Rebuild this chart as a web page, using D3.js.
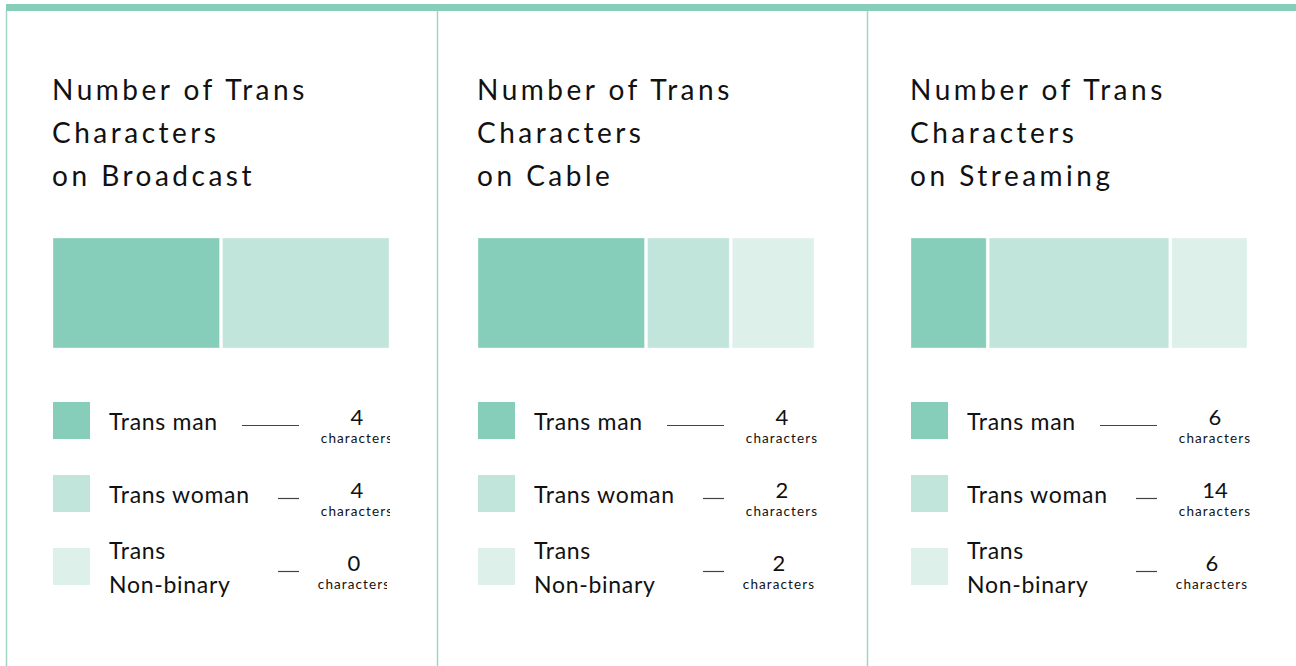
<!DOCTYPE html>
<html>
<meta charset="utf-8">
<script src="https://d3js.org/d3.v7.min.js"></script>
<style>
    body { margin: 0; background: #fff; }
    svg { display: block; font-family: Lato, "Noto Sans", sans-serif; }
    .title { font-size: 28px; letter-spacing: 3.5px; fill: #111; }
    .label { font-size: 23px; letter-spacing: 0.7px; fill: #111; }
    .num { font-size: 22px; fill: #111; }
    .unit { font-size: 13.5px; letter-spacing: 1.1px; fill: #111; }
</style>
<body>
<svg width="1296" height="666"></svg>
<script>
    const platforms = ["Broadcast", "Cable", "Streaming"];
    const identities = ["Trans man", "Trans woman", "Trans\nNon-binary"];
    const broadcast = [4, 4, 0];
    const cable = [4, 2, 2];
    const streaming = [6, 14, 6];
    const colors = ["#86cdba", "#c1e5da", "#ddf0ea"];

    const series = [broadcast, cable, streaming];

    let svg = d3.select("svg");
    const panelLeft = [6, 437, 867],
        chartLeft = [53, 478, 911],
        barTop = 238, barH = 110, barW = 336, gap = 3,
        rowTop = [402, 475, 548], sq = 37;

    // frame: top strip and panel dividers
    svg.append("rect").attr("x", 6).attr("y", 4).attr("width", 1290).attr("height", 7).attr("fill", "#86cdba");
    svg.selectAll("line.divider")
        .data(panelLeft)
        .enter().append("line")
        .attr("class", "divider")
        .attr("x1", d => d + 0.5).attr("x2", d => d + 0.5)
        .attr("y1", 11).attr("y2", 666)
        .attr("stroke", "#9fd6c6").attr("stroke-width", 1.5);

    // panel 1 values are cut off at the right in the original
    const defs = svg.append("defs");

    platforms.forEach((p, i) => {
        const values = series[i];
        const g = svg.append("g").attr("transform", `translate(${chartLeft[i]},0)`);

        // title
        const title = g.append("text").attr("class", "title");
        ["Number of Trans", "Characters", "on " + p].forEach((line, k) => {
            title.append("tspan").attr("x", -1).attr("y", 100 + k * 43).text(line);
        });

        // stacked bar
        const total = d3.sum(values);
        const x = d3.scaleLinear().domain([0, total]).range([0, barW + gap]);
        let acc = 0;
        const segs = values.map((v, k) => { const s = { k, v, x0: acc, x1: acc + v }; acc += v; return s; });
        g.selectAll("rect.seg")
            .data(segs.filter(s => s.v > 0))
            .enter().append("rect")
            .attr("class", "seg")
            .attr("x", d => x(d.x0))
            .attr("y", barTop)
            .attr("width", d => Math.max(0, x(d.x1) - x(d.x0) - gap))
            .attr("height", barH)
            .attr("fill", d => colors[d.k])
            .attr("stroke", "#fff").attr("stroke-opacity", 0.35).attr("stroke-width", 1);

        // legend rows
        identities.forEach((name, k) => {
            const row = g.append("g").attr("transform", `translate(0,${rowTop[k]})`);
            row.append("rect").attr("width", sq).attr("height", sq).attr("fill", colors[k]);

            const lbl = row.append("text").attr("class", "label");
            const parts = name.split("\n");
            if (parts.length === 1) {
                lbl.append("tspan").attr("x", 56).attr("y", 28).text(parts[0]);
            } else {
                parts.forEach((t, j) => lbl.append("tspan").attr("x", 56).attr("y", 11 + j * 34).text(t));
            }

            row.append("line")
                .attr("x1", k === 0 ? 189 : 225).attr("x2", 246)
                .attr("y1", 23.5).attr("y2", 23.5)
                .attr("stroke", "#444").attr("stroke-width", 1.2);

            const cx = k === 2 ? 301 : 304;
            const val = row.append("g");
            if (i === 0) {
                const id = `clip-${i}-${k}`;
                defs.append("clipPath").attr("id", id)
                    .append("rect").attr("x", cx - 45).attr("y", -5)
                    .attr("width", 78).attr("height", 55);
                val.attr("clip-path", `url(#${id})`);
            }
            val.append("text").attr("class", "num").attr("text-anchor", "middle")
                .attr("x", cx).attr("y", 23).text(values[k]);
            val.append("text").attr("class", "unit").attr("text-anchor", "middle")
                .attr("x", cx).attr("y", 41).text("characters");
        });
    });
</script>
</body>
</html>
